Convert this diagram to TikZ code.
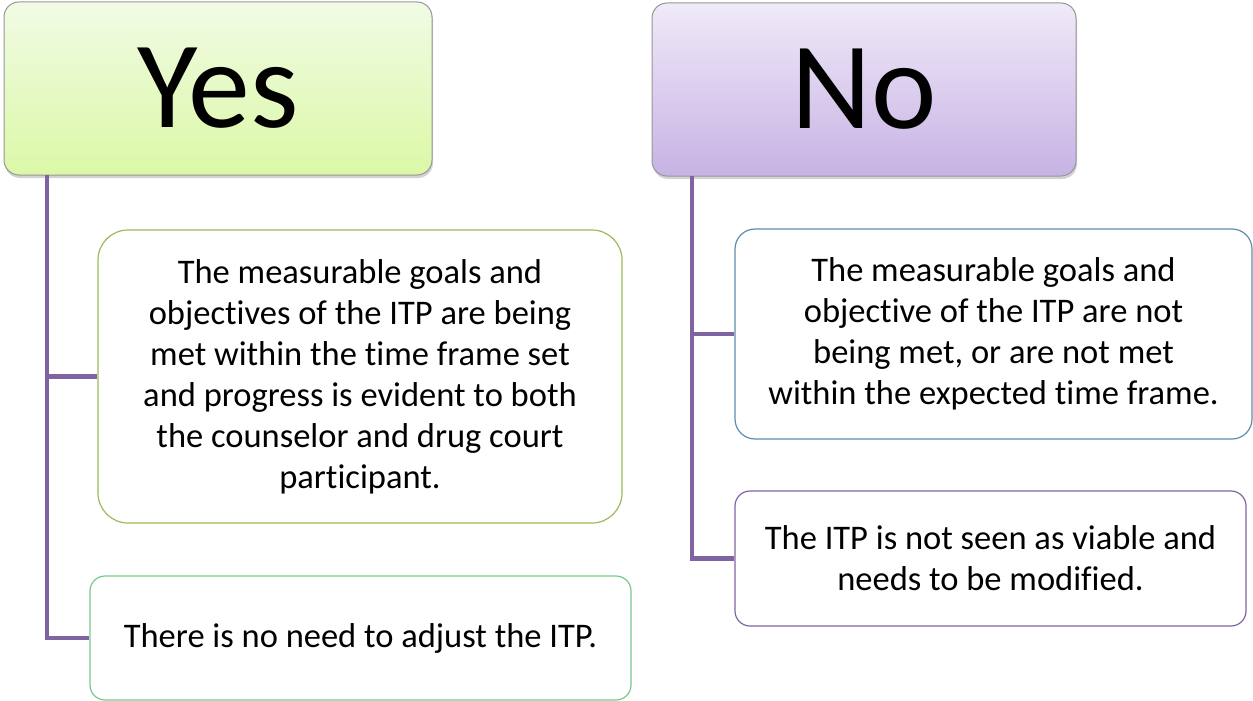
\documentclass[tikz,border=0pt]{standalone}
\usepackage{fontspec}
\setmainfont[RawFeature={-liga;-clig;-dlig;-calt;-rlig}]{Carlito}
\usetikzlibrary{positioning,shadows}
\definecolor{yesTop}{RGB}{241,251,229}
\definecolor{yesBot}{RGB}{219,248,166}
\definecolor{noTop}{RGB}{240,234,248}
\definecolor{noBot}{RGB}{199,178,228}
\definecolor{headEdge}{RGB}{150,150,150}
\definecolor{branchCol}{RGB}{128,100,162}
\definecolor{metGreen}{RGB}{155,187,89}
\definecolor{adjGreen}{RGB}{120,200,142}
\definecolor{notBlue}{RGB}{92,140,176}
\definecolor{modPurple}{RGB}{128,100,162}

\begin{document}
\begin{tikzpicture}[x=1pt, y=-1pt,
  head/.style={draw=headEdge, line width=1pt, rounded corners=15pt,
    drop shadow={opacity=0.35, shadow xshift=1pt, shadow yshift=-3pt},
    font=\fontsize{124}{130}\selectfont, inner sep=0pt},
  yesHead/.style={head, top color=yesTop, bottom color=yesBot,
    minimum width=428pt, minimum height=173pt},
  noHead/.style={head, top color=noTop, bottom color=noBot,
    minimum width=424pt, minimum height=173pt},
  leaf/.style={draw, fill=white, line width=1.2pt, align=center,
    font=\fontsize{34.5}{41}\selectfont, inner sep=0pt},
  branch/.style={draw=branchCol, line width=4.5pt},
]
  \useasboundingbox (0,0) rectangle (1253,701);

% Yes side
  \node[yesHead] (yes) at (218,88.5) {Yes};
  \node[leaf, draw=metGreen, rounded corners=30pt,
    minimum width=524pt, minimum height=293pt] (ymet) at (360,376.5)
    {The measurable goals and\\ objectives of the ITP are being\\
     met within the time frame set\\ and progress is evident to both\\
     the counselor and drug court\\ participant.};
  \node[leaf, draw=adjGreen, rounded corners=15pt,
    minimum width=541pt, minimum height=124pt] (yadj) at (360.5,638)
    {There is no need to adjust the ITP.};

% No side
  \node[noHead] (no) at (864,89.5) {No};
  \node[leaf, draw=notBlue, rounded corners=20pt,
    minimum width=517pt, minimum height=210pt] (nmet) at (993.5,334)
    {The measurable goals and\\ objective of the ITP are not\\
     being met, or are not met\\ within the expected time frame.};
  \node[leaf, draw=modPurple, rounded corners=15pt,
    minimum width=511pt, minimum height=135pt] (nmod) at (990.5,558.5)
    {The ITP is not seen as viable and\\ needs to be modified.};

% branches
  \coordinate (ytrunk) at (47,175);
  \coordinate (ntrunk) at (692,176);
  \draw[branch] (ytrunk) |- (yadj.west);
  \draw[branch] (ytrunk |- ymet.west) -- (ymet.west);
  \draw[branch] (ntrunk) |- (nmod.west);
  \draw[branch] (ntrunk |- nmet.west) -- (nmet.west);
\end{tikzpicture}
\end{document}
